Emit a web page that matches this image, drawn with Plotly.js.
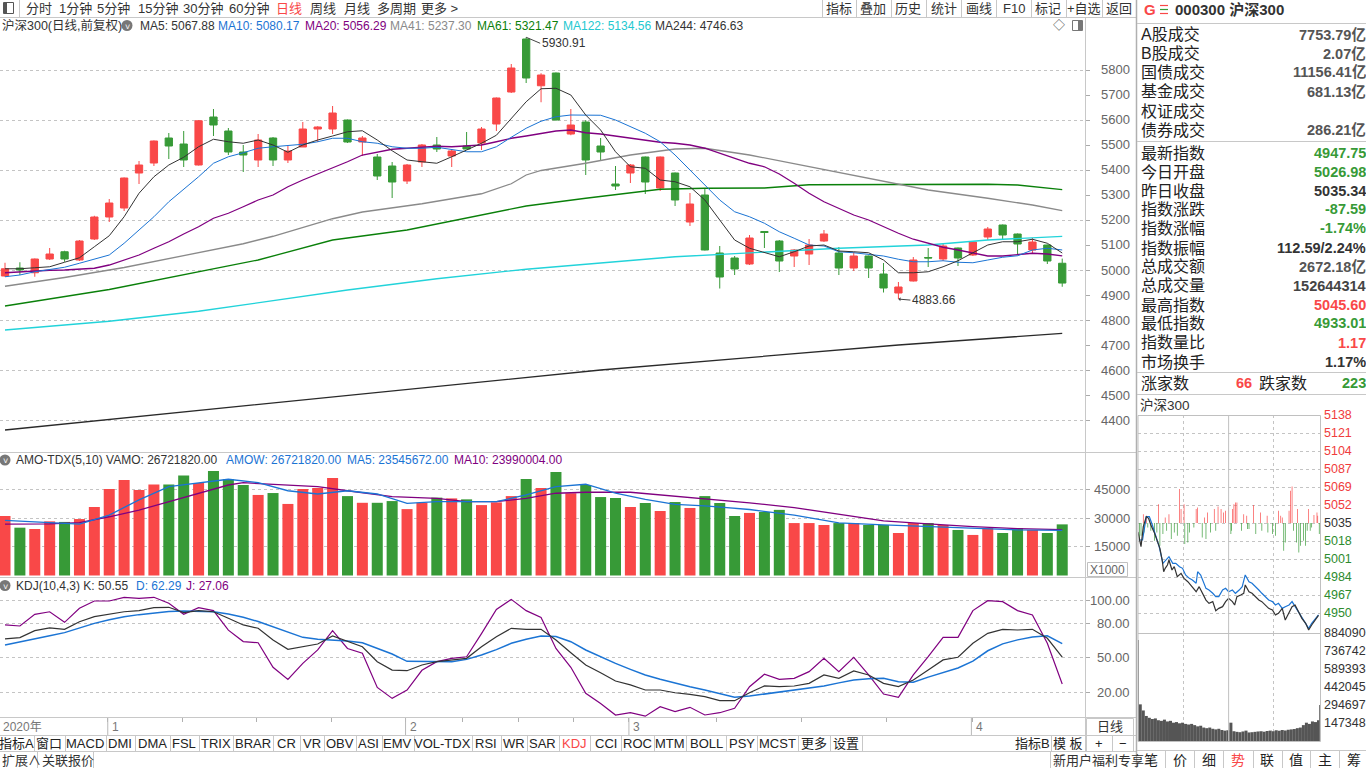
<!DOCTYPE html>
<html><head><meta charset="utf-8">
<script src="https://cdn.plot.ly/plotly-3.0.1.min.js"></script>
<style>html,body{margin:0;padding:0;background:#fff;overflow:hidden}#c{width:1366px;height:768px}</style>
</head><body><div id="c"></div>
<script>
// ---------------- DATA ----------------
const dates = ['2020-12-23','2020-12-24','2020-12-25','2020-12-28','2020-12-29','2020-12-30','2020-12-31',
'2021-01-04','2021-01-05','2021-01-06','2021-01-07','2021-01-08','2021-01-11','2021-01-12','2021-01-13','2021-01-14','2021-01-15','2021-01-18','2021-01-19','2021-01-20','2021-01-21','2021-01-22','2021-01-25','2021-01-26','2021-01-27','2021-01-28','2021-01-29',
'2021-02-01','2021-02-02','2021-02-03','2021-02-04','2021-02-05','2021-02-08','2021-02-09','2021-02-10','2021-02-18','2021-02-19','2021-02-22','2021-02-23','2021-02-24','2021-02-25','2021-02-26',
'2021-03-01','2021-03-02','2021-03-03','2021-03-04','2021-03-05','2021-03-08','2021-03-09','2021-03-10','2021-03-11','2021-03-12','2021-03-15','2021-03-16','2021-03-17','2021-03-18','2021-03-19','2021-03-22','2021-03-23','2021-03-24','2021-03-25','2021-03-26','2021-03-29','2021-03-30','2021-03-31',
'2021-04-01','2021-04-02','2021-04-06','2021-04-07','2021-04-08','2021-04-09','2021-04-12'];
const openP  = [4976,5008,4989,5044,5073,5040,5124,5212,5248,5388,5428,5528,5504,5420,5612,5556,5472,5440,5528,5440,5492,5564,5564,5600,5512,5452,5416,5356,5432,5500,5456,5496,5508,5584,5712,5924,5737,5788,5544,5592,5496,5344,5388,5452,5328,5388,5192,5300,5068,5048,5024,5154,5116,5056,5064,5116,5068,5008,5056,4984,4908,4956,5050,5044,5088,5060,5132,5180,5144,5080,5100,5026.98];
const highP  = [5029,5031,5046,5088,5077,5120,5217,5284,5370,5436,5518,5548,5556,5600,5644,5568,5500,5544,5532,5496,5592,5575,5656,5602,5536,5464,5432,5424,5504,5532,5484,5552,5572,5690,5824,5930.91,5787,5790,5644,5600,5528,5416,5424,5454,5454,5390,5308,5324,5096,5056,5140,5156,5120,5084,5124,5160,5092,5072,5058,5028,4952,5052,5088,5104,5090,5116,5172,5182,5146,5128,5102,5045.60];
const lowP   = [4973,4980,4973,5040,5033,5036,5120,5192,5236,5344,5416,5444,5412,5418,5536,5460,5392,5412,5416,5428,5492,5512,5544,5508,5456,5360,5288,5344,5412,5472,5412,5484,5480,5556,5708,5748,5671,5598,5539,5380,5440,5320,5348,5304,5316,5256,5176,5078,4926,4980,5020,5088,4992,5012,5020,5112,4980,4996,4968,4910,4883.66,4954,5012,5036,5016,5056,5120,5124,5064,5064,5024,4933.01];
const closeP = [5005,5000,5044,5064,5044,5116,5212,5268,5368,5420,5516,5496,5440,5597,5580,5472,5460,5520,5440,5476,5564,5572,5628,5512,5528,5376,5352,5420,5500,5484,5476,5484,5564,5688,5808,5768,5780,5600,5580,5440,5472,5336,5420,5352,5452,5280,5264,5080,4972,5004,5128,5150,5036,5080,5100,5144,5008,5056,5008,4928,4932,5040,5048,5096,5048,5112,5164,5140,5104,5112,5036,4947.75];
const ma5  = [5005,5005,5009,5013,5031,5049,5093,5137,5213,5307,5373,5420,5451,5493,5523,5513,5507,5520,5500,5471,5500,5520,5536,5553,5557,5520,5477,5440,5433,5427,5453,5480,5507,5539,5607,5673,5725,5727,5700,5620,5560,5473,5413,5407,5360,5353,5333,5280,5200,5120,5087,5069,5053,5073,5096,5100,5076,5073,5069,5040,4989,4989,4993,5013,5037,5069,5100,5113,5113,5123,5107,5067.88];
const ma10 = [4973,4980,4993,5003,5011,5027,5043,5060,5107,5160,5213,5273,5323,5373,5427,5453,5469,5487,5493,5497,5503,5513,5527,5527,5513,5507,5493,5487,5487,5491,5483,5473,5473,5493,5531,5567,5595,5613,5620,5620,5619,5600,5573,5547,5513,5460,5400,5340,5280,5233,5213,5187,5153,5127,5100,5096,5073,5069,5064,5056,5043,5033,5033,5037,5031,5029,5040,5051,5057,5080,5087,5080.17];
const ma20 = [4989,4993,4997,4999,5000,5003,5007,5020,5040,5060,5087,5113,5144,5173,5207,5227,5253,5280,5300,5333,5360,5384,5411,5433,5460,5473,5483,5487,5491,5495,5493,5496,5500,5513,5527,5536,5547,5556,5560,5549,5544,5536,5527,5517,5511,5507,5500,5487,5467,5447,5427,5413,5384,5347,5307,5273,5247,5220,5200,5173,5147,5123,5107,5091,5080,5067,5056,5056,5060,5067,5064,5056.29];
const ma41Idx  = [0,4,8,12,16,18,20,22,24,28,32,34,35,36,39,42,45,47,50,54,58,62,66,69,71];
const ma41     = [4935,4970,5010,5058,5105,5135,5170,5205,5232,5265,5305,5345,5380,5398,5427,5460,5484,5487,5460,5413,5367,5320,5287,5260,5237.30];
const ma61Idx  = [0,7,17,22,27,35,39,42,44,47,51,54,60,66,68,71];
const ma61     = [4856,4922,5040,5120,5160,5256,5287,5309,5323,5327,5328,5341,5343,5343,5340,5321.47];
const ma122Idx = [0,7,13,20,23,29,35,45,50,56,62,66,71];
const ma122    = [4760,4795,4835,4895,4920,4965,5003,5053,5069,5087,5100,5120,5134.56];
const ma244Idx = [0,20,40,60,71];
const ma244    = [4360,4480,4600,4700,4746.63];
// AMO (x1000)
const amount = [31100,25000,24300,28300,28000,29500,35800,45200,49900,44700,47500,47500,52200,48300,54600,50300,47300,42100,43100,37400,45200,45700,51000,41500,38000,38000,38900,34700,38000,40700,40300,39800,36800,38200,41500,50400,45700,54100,43000,47300,41000,40500,35800,37900,33700,38400,35300,41500,37900,31100,32700,33200,34300,27400,27400,26400,27400,27400,26400,26400,22200,27400,27400,26400,23800,21200,24800,22200,24800,23800,22200,26721.82];
const amoMa5Idx  = [0,5,7,9,11,13,15,17,19,21,23,25,27,29,31,33,35,37,39,41,43,45,47,50,53,56,59,62,65,68,71];
const amoMa5     = [28850,26900,31600,39500,46400,48500,50300,48500,44300,42600,44300,42600,37700,38600,38600,38600,42100,46400,47700,43000,39800,37200,36400,34500,31500,27500,26500,25500,24800,23800,23545.67];
const amoMa10Idx = [0,3,5,7,9,11,13,15,16,18,21,23,26,29,31,33,35,37,39,42,45,47,50,53,56,59,62,65,68,71];
const amoMa10    = [26800,27000,27600,30700,34200,38600,43000,47300,48500,47800,46400,44300,41200,40300,38600,38600,40300,43000,43500,43500,41500,40300,38000,35500,32000,28500,27000,25500,24500,23990.00];
// KDJ(10,4,3)
const kdjK = [66.3,67.5,73.5,76,74.7,81.3,85.7,87.8,90,91,93.6,93.9,89.2,91,90,84.3,78.5,75.6,65.4,57.3,59.5,61.9,68.9,63.9,59.5,46.5,39.2,38.6,43.6,46.5,48,49.4,59.5,68.3,75.6,74.7,74.7,65.4,54.3,43.6,36.9,29.6,26.2,21.8,21.8,19.4,18,16,12.5,12.5,19.4,25.3,24.7,25.3,27.6,34.9,32,38.4,34.9,27.6,24.7,30.5,39.2,48,50.3,62.5,71.2,74.7,74.1,74.7,66.9,50.55];
const kdjD = [61,63.5,66,69,71.8,76,79.9,83,85.7,87.5,89.2,90.3,90.7,90.5,90,88,85.2,81.5,77,72,67.7,66,65.4,64.5,63,58,53.2,46.8,46.5,46.3,46.5,48.5,52.3,57,62.5,66,68.9,68.5,63.9,56.7,50.8,45,39.8,34.9,31.1,27.6,24.7,21.8,18.3,15.4,16.5,18.3,20,21.8,23.5,25.3,28,30.5,31.5,32,29,28.5,33,37,41,47,56,62,65.5,68,69,62.29];
const kdjJ = [78.5,77.6,87.8,90,80.8,93,99.4,99.4,102.6,101.7,102.6,97.4,87.8,93.6,91,74,64,63,41.6,31,45,56.7,73.5,58,53.8,24,14.5,21.8,39,46.5,49.4,50.8,71,92,100.8,91,85,58,41.6,19,10,0,2,-1,7.2,2.9,6.7,0,2,5.8,24.7,35.5,31,32,37.8,49.4,37.8,50.3,34.9,18.3,15.4,34.9,50.8,67.7,67.7,91,99.7,98.8,91,87.2,62.5,27.06];
// axis labels
const priceLabels = [4400,4500,4600,4700,4800,4900,5000,5100,5200,5300,5400,5500,5600,5700,5800];
const priceGrid   = [4400,4600,4800,5000,5200,5400,5600,5800];
const amoLabels   = [15000,30000,45000];
const kdjLabels   = [20,50,80,100];
const kdjLabelText= ['20.00','50.00','80.00','100.00'];
const monthIdx    = [7,27,42,65];
const monthText   = ['1','2','3','4'];
const subTicks    = [6.9,11.95,16.9,21.9,26.9,30.7,34.5,38.2,41.9,47.8,53.5,59.2,65.0];
// intraday (right panel)
const miniMin   = [0,1,4,7,11,14,17,22,26,29,32,34,36,39,41,45,48,52,57,61,66,70,74,77,81,85,90,94,99,103,107,112,116,120,125,128,131,136,140,142,147,151,156,160,164,169,173,178,182,186,191,195,200,204,208,213,217,222,226,230,235,239];
const miniPrice = [5026.98,5024.1,5013.0,5032.0,5041.5,5039.9,5033.6,5025.6,5017.7,5011.4,5000.3,4989.2,4992.4,4995.6,5000.3,4990.8,4994.0,4984.5,4987.6,4982.9,4979.7,4976.6,4973.4,4970.2,4975.0,4968.7,4962.3,4959.2,4960.8,4952.2,4954.4,4956.0,4960.8,4963.9,4960.8,4957.6,4965.5,4967.1,4968.7,4976.6,4970.2,4968.7,4965.5,4962.3,4960.8,4957.6,4954.4,4952.8,4948.1,4949.7,4954.4,4943.3,4951.3,4956.0,4957.6,4951.3,4944.9,4940.2,4933.8,4938.6,4943.3,4947.75];
const avgMin    = [1,6,11,15,19,24,28,33,37,41,46,50,55,59,63,68,72,77,79,83,90,94,99,103,107,112,116,120,125,129,134,138,142,147,151,156,160,164,169,173,178,182,186,191,195,200,204,208,213,217,222,226,230,235,239];
const avgPrice  = [5019.3,5019.3,5041.5,5041.5,5033.6,5022.5,5013.0,4997.2,5000.3,5003.5,4997.2,4997.2,4994.0,4992.4,4986.1,4982.9,4981.3,4978.2,4989.2,4986.1,4973.4,4971.8,4968.7,4965.5,4965.5,4971.8,4973.4,4970.2,4971.8,4968.7,4971.8,4975.0,4986.1,4979.7,4978.2,4975.0,4971.8,4968.7,4965.5,4962.3,4960.8,4957.6,4959.2,4954.4,4956.0,4957.6,4960.8,4956.0,4949.7,4944.9,4940.2,4935.4,4940.2,4944.9,4948.1];
const strengthMin = [2,4,7,8,11,13,17,22,25,27,29,33,36,38,41,44,48,52,55,57,61,62,66,68,74,77,79,85,88,90,92,96,101,103,106,110,113,116,120,123,124,125,127,129,131,137,140,144,145,147,153,156,162,164,171,172,178,182,186,189,191,193,195,200,202,204,206,210,211,213,215,219,222,224,226,228,230,233,237,238,240];
const strengthVal = [-16.8,-12.0,8.5,-8.9,7.0,-4.1,-7.3,-16.8,-8.9,18.0,-21.5,-10.4,5.4,-7.3,8.5,-15.2,-8.9,-12.0,32.3,13.3,18.0,-19.9,-18.4,-8.9,-4.1,13.3,14.9,-13.6,5.4,-15.2,10.1,-8.9,13.3,-7.3,15.8,13.3,10.1,11.7,14.9,-10.4,-7.3,13.3,18.0,19.6,19.6,-7.3,8.5,7.0,-5.7,-5.7,17.1,-10.4,10.1,-7.3,7.0,-8.9,-10.4,-12.0,11.7,7.0,5.4,-26.3,-18.4,11.7,30.7,34.8,-7.3,-18.4,13.3,-27.9,-21.5,-16.8,-21.5,-7.3,13.3,-7.3,-4.1,7.6,10.1,7.0,-10.4];
const miniVolMin = [0.5,3,7,11,15,19,23,27,31,35,39,43,47,51,55,59,63,67,71,75,79,83,87,91,95,99,103,107,111,115,119,123,127,131,135,139,143,147,151,155,159,163,167,171,175,179,183,187,191,195,199,203,207,211,215,219,223,227,231,235,238.5,240.5];
const miniVol    = [826800,300000,250000,205000,190000,180000,185000,170000,165000,175000,160000,165000,150000,155000,145000,150000,140000,135000,140000,130000,120000,125000,110000,105000,110000,100000,95000,100000,90000,85000,88000,150000,80000,75000,72000,78000,85000,70000,72000,75000,78000,80000,76000,82000,85000,80000,88000,84000,90000,86000,92000,95000,98000,105000,110000,130000,150000,140000,160000,155000,170000,295000];
const miniPriceTicks = [5138,5120.89,5103.78,5086.67,5069.56,5052.45,5035.34,5018.23,5001.12,4984.01,4966.9,4949.79];
const miniPriceText  = ['5138','5121','5104','5087','5069','5052','5035','5018','5001','4984','4967','4950'];
const miniVolTicks   = [147348,294697,442045,589393,736742,884090];

// ---------------- RENDER ----------------
const W=1366,H=768;
const FONT='Liberation Sans, Arial, Noto Sans CJK SC, sans-serif';
const RED='#f94848', GREEN='#379a37';
const X=v=>v/W, Y=v=>1-v/H;
const idx = closeP.map((_,i)=>i);
const shapes=[], annos=[];
function T(text,x,y,o){o=o||{};annos.push({text:text,xref:'paper',yref:'paper',x:X(x),y:Y(y),xanchor:o.a||'left',yanchor:'middle',showarrow:false,borderpad:0,font:{family:o.f||FONT,size:o.s||12,color:o.c||'#333',weight:o.w||'normal'}});}
function L(x0,y0,x1,y1,c,w){shapes.push({type:'line',xref:'paper',yref:'paper',x0:X(x0),y0:Y(y0),x1:X(x1),y1:Y(y1),line:{color:c||'#c8c8c8',width:w||1}});}
function R(x0,y0,x1,y1,c,fill){shapes.push({type:'rect',xref:'paper',yref:'paper',x0:X(x0),y0:Y(y0),x1:X(x1),y1:Y(y1),line:{color:c||'#c8c8c8',width:1},fillcolor:fill||'rgba(0,0,0,0)'});}
function C(cx,cy,r,fill){shapes.push({type:'circle',xref:'paper',yref:'paper',x0:X(cx-r),y0:Y(cy+r),x1:X(cx+r),y1:Y(cy-r),line:{width:0},fillcolor:fill});}
// axis value labels placed through the axes' own scales
function axisLabel(yref,v,text,xpx,anchor,color,size){annos.push({text:text,xref:'paper',yref:yref,x:X(xpx),y:v,xanchor:anchor,yanchor:'middle',showarrow:false,borderpad:0,font:{family:FONT,size:size||13,color:color||'#666'}});}

const upDown = closeP.map((c,i)=> c>=openP[i] ? RED : GREEN);
const traces = [];
function ln(xs,ys,color,w,xa,ya){traces.push({type:'scatter',mode:'lines',x:xs,y:ys,xaxis:xa||'x',yaxis:ya||'y',line:{color:color,width:w||1},hoverinfo:'skip'});}

ln(ma244Idx,ma244,'#2a2a2a',1.3);
ln(ma122Idx,ma122,'#22d3da',1.3);
ln(ma61Idx,ma61,'#0a800a',1.3);
ln(ma41Idx,ma41,'#8a8a8a',1.3);
traces.push({type:'candlestick',x:idx,open:openP,high:highP,low:lowP,close:closeP,text:dates,xaxis:'x',yaxis:'y',
  increasing:{line:{color:RED,width:1},fillcolor:RED},decreasing:{line:{color:GREEN,width:1},fillcolor:GREEN},whiskerwidth:0,hoverinfo:'skip'});
ln(idx,ma20,'#800080',1.3);
ln(idx,ma10,'#1b74d4',1);
ln(idx,ma5,'#333333',1);
traces.push({type:'bar',x:idx,y:amount,xaxis:'x',yaxis:'y2',width:0.74,marker:{color:upDown,line:{width:0}},hoverinfo:'skip'});
ln(amoMa10Idx,amoMa10,'#800080',1.3,'x','y2');
ln(amoMa5Idx,amoMa5,'#1b74d4',1.3,'x','y2');
ln(idx,kdjJ,'#800080',1.2,'x','y3');
ln(idx,kdjD,'#1b74d4',1.5,'x','y3');
ln(idx,kdjK,'#333333',1.2,'x','y3');
// intraday panel
traces.push({type:'bar',x:strengthMin,y:strengthVal,base:5035.34,xaxis:'x2',yaxis:'y7',width:0.9,
  marker:{color:strengthVal.map(v=>v>=0?RED:GREEN),line:{width:0}},hoverinfo:'skip'});
ln(avgMin,avgPrice,'#1b74d4',1.2,'x2','y7');
ln(miniMin,miniPrice,'#333333',1.2,'x2','y7');
traces.push({type:'bar',x:miniVolMin,y:miniVol,xaxis:'x2',yaxis:'y9',
  width:miniVolMin.map((m,i)=> i===0||i===miniVolMin.length-1 ? 1 : (i===miniVolMin.length-2 ? 3 : 4)),
  marker:{color:'#555555',line:{width:0}},hoverinfo:'skip'});

// axis labels
priceLabels.forEach(v=>axisLabel('y',v,String(v),1131,'right'));
amoLabels.forEach(v=>axisLabel('y2',v,String(v),1131,'right'));
kdjLabels.forEach((v,i)=>axisLabel('y3',v,kdjLabelText[i],1131,'right'));
miniPriceTicks.forEach((v,i)=>axisLabel('y7',v,miniPriceText[i],1323,'left',i<6?'#f03c3c':(i===6?'#333':'#2e8b2e'),12.5));
miniVolTicks.forEach(v=>axisLabel('y9',v,String(v),1323,'left','#333',12.5));

// ---------- chrome: top toolbar ----------
L(0,17.5,1136,17.5);
R(3.5,2.5,13.5,13.5,'#555'); shapes.push({type:'rect',xref:'paper',yref:'paper',x0:X(4),y0:Y(13),x1:X(7),y1:Y(3),line:{width:0},fillcolor:'#555'});
L(19.5,0,19.5,17);
[['分时',25],['1分钟',58],['5分钟',96],['15分钟',137],['30分钟',182],['60分钟',228],['日线',275,RED],['周线',309],['月线',343],['多周期',376],['更多 >',420]]
 .forEach(t=>T(t[0],t[1],8.5,{s:13,c:t[2]||'#333'}));
[822,855.6,890.7,926,961,996,1031,1065.6,1101.5].forEach(x=>L(Math.round(x)+0.5,0,Math.round(x)+0.5,17));
[['指标',838.8],['叠加',873],['历史',908],['统计',943.5],['画线',978.5],['F10',1013.5],['标记',1048],['+自选',1083.5],['返回',1119]]
 .forEach(t=>T(t[0],t[1],8.5,{s:13,a:'center'}));
// legend row
T('沪深300(日线,前复权)',1,25.5,{s:12.5});
C(127,25.5,5.5,'#777'); T('˅',127,26.5,{s:9,c:'#fff',a:'center'});
T('MA5: 5067.88',138.6,25.5,{c:'#333'});
T('MA10: 5080.17',217,25.5,{c:'#1b74d4'});
T('MA20: 5056.29',303.6,25.5,{c:'#800080'});
T('MA41: 5237.30',389,25.5,{c:'#8a8a8a'});
T('MA61: 5321.47',476,25.5,{c:'#0a800a'});
T('MA122: 5134.56',562,25.5,{c:'#22c8d0'});
T('MA244: 4746.63',654,25.5,{c:'#333'});
T('◇',1059,25.5,{s:12,a:'center',c:'#555'});
R(1072.5,20.5,1082.5,30.5,'#777'); shapes.push({type:'rect',xref:'paper',yref:'paper',x0:X(1078),y0:Y(30),x1:X(1082),y1:Y(21),line:{width:0},fillcolor:'#777'});
// frames
L(1085.5,17,1085.5,752);
L(0,452.5,1136,452.5);
L(0,577.5,1136,577.5);
L(0,717.5,1136,717.5);
L(0,735.5,1136,735.5);
L(0,751.5,1136,751.5);
L(1136.5,0,1136.5,768,'#b0b0b0',1.5);
// volume legend
C(5,460,5.5,'#777'); T('˅',5,461,{s:9,c:'#fff',a:'center'});
T('AMO-TDX(5,10) VAMO: 26721820.00',14.7,460,{c:'#333'});
T('AMOW: 26721820.00',225.4,460,{c:'#1b74d4'});
T('MA5: 23545672.00',346,460,{c:'#1b74d4'});
T('MA10: 23990004.00',453,460,{c:'#800080'});
R(1087.5,562.5,1127.5,576.5,'#c0c0c0'); T('X1000',1107.5,569.5,{a:'center',c:'#666'});
// kdj legend
C(5,585.5,5.5,'#777'); T('˅',5,586.5,{s:9,c:'#fff',a:'center'});
T('KDJ(10,4,3) K: 50.55',14.7,585.5,{c:'#333'});
T('D: 62.29',134.8,585.5,{c:'#1b74d4'});
T('J: 27.06',185,585.5,{c:'#800080'});
// date row
T('2020年',2,726.5,{c:'#777'});
monthIdx.forEach((m,i)=>{
  shapes.push({type:'line',xref:'x',yref:'paper',x0:m-0.1,x1:m-0.1,y0:Y(718),y1:Y(735),line:{color:'#b8b8b8',width:1}});
  annos.push({text:monthText[i],xref:'x',yref:'paper',x:m,y:Y(726.5),xanchor:'left',yanchor:'middle',showarrow:false,xshift:1,font:{family:FONT,size:12,color:'#777'}});
});
R(1086.5,718.5,1133.5,735.5,'#c8c8c8'); T('日线',1110,726.5,{s:13,a:'center'});
// bottom tabs
const tabs=[['指标A',0,33.5],['窗口',33.5,64.7],['MACD',64.7,105.8],['DMI',105.8,135],['DMA',135,169.6],['FSL',169.6,198.7],['TRIX',198.7,233],['BRAR',233,273],['CR',273,300],['VR',300,323.7],['OBV',323.7,355.8],['ASI',355.8,381.7],['EMV',381.7,413.8],['VOL-TDX',413.8,471.9],['RSI',471.9,501],['WR',501,526.8],['SAR',526.8,559],['KDJ',559,590],['CCI',590,621.4],['ROC',621.4,654],['MTM',654,686],['BOLL',686,726],['PSY',726,757.3],['MCST',757.3,798.3],['更多',798.3,830],['设置',830,862.3],['指标B',1014,1050.7],['模 板',1050.7,1086],['+',1086,1112],['−',1112,1133]];
tabs.forEach(t=>{T(t[0],(t[1]+t[2])/2,743.5,{s:13,a:'center',c:t[0]==='KDJ'?RED:'#222'}); L(Math.round(t[2])+0.5,735,Math.round(t[2])+0.5,751);});
T('扩展∧',1,760.5,{s:13}); L(37.5,752,37.5,768); T('关联报价',41,760.5,{s:13}); L(93.5,752,93.5,768);
L(1050.5,752,1050.5,768); T('新用户福利专享',1051.5,760.5,{s:13});
// ---------- right panel ----------
T('G',1143,9,{s:15,c:RED,w:'bold'});
L(1160,5.5,1168,5.5,RED,1.2); L(1160,9.5,1168,9.5,GREEN,1.2); L(1160,13.5,1168,13.5,RED,1.2);
T('000300 沪深300',1174,9,{s:15,c:'#333',w:'bold'});
L(1137,23.5,1366,23.5);
const rows=[['A股成交','7753.79亿','#555',35],['B股成交','2.07亿','#555',53.5],['国债成交','11156.41亿','#555',72.5],['基金成交','681.13亿','#555',91.7],['权证成交','','#555',111],['债券成交','286.21亿','#555',130],
 ['最新指数','4947.75',GREEN,153],['今日开盘','5026.98',GREEN,171.7],['昨日收盘','5035.34','#333',190.7],['指数涨跌','-87.59',GREEN,209.3],['指数涨幅','-1.74%',GREEN,228.3],['指数振幅','112.59/2.24%','#333',248],
 ['总成交额','2672.18亿','#555',266.7],['总成交量','152644314','#444',286],['最高指数','5045.60',RED,305],['最低指数','4933.01',GREEN,323.3],['指数量比','1.17',RED,343],['市场换手','1.17%','#333',362.5]];
rows.forEach(r=>{T(r[0],1140,r[3],{s:16,c:'#222'}); if(r[1]) T(r[1],1367,r[3],{s:14.5,c:r[2],a:'right',w:'bold'});});
L(1137,141.5,1366,141.5);
L(1137,372.5,1366,372.5);
T('涨家数',1140,383.5,{s:16,c:'#222'}); T('66',1253,383.5,{s:14.5,c:RED,a:'right',w:'bold'});
T('跌家数',1258,383.5,{s:16,c:'#222'}); T('223',1367,383.5,{s:14.5,c:GREEN,a:'right',w:'bold'});
L(1137,394.5,1366,394.5);
T('沪深300',1139,405,{s:13.5,c:'#333'});
R(1138,415.5,1320.5,741.5,'#c0c0c0');
L(1138,633.5,1320.5,633.5,'#c0c0c0');
shapes.push({type:'line',xref:'x2',yref:'paper',x0:120,x1:120,y0:Y(415.5),y1:Y(741.5),line:{color:'#c0c0c0',width:1}});
L(1137,750.5,1366,750.5);
[1165,1194,1223,1253,1282,1310,1339].forEach(x=>L(x+0.5,751,x+0.5,768));
[['笔',1151],['价',1179.5],['细',1208.5],['势',1238,RED],['联',1267],['值',1296],['主',1324.5],['筹',1354]].forEach(t=>T(t[0],t[1],759.5,{s:14,a:'center',c:t[2]||'#222'}));

// annotations on data
annos.push({xref:'x',yref:'y',x:35,y:5930.91,text:'5930.91',showarrow:true,arrowhead:0,arrowwidth:1,arrowcolor:'#444',ax:14,ay:6,xanchor:'left',yanchor:'middle',font:{family:FONT,size:12,color:'#333'}});
annos.push({xref:'x',yref:'y',x:60,y:4883.66,text:'4883.66',showarrow:true,arrowhead:1,arrowsize:0.7,arrowwidth:1,arrowcolor:'#444',ax:12,ay:1,xanchor:'left',yanchor:'middle',font:{family:FONT,size:12,color:'#333'}});

const grid={showgrid:true,gridcolor:'#c4c4c4',griddash:'dot',gridwidth:1};
const priceRange=[4272,6012], amoRange=[-784,64547], kdjRange=[-1.744,120.31], miniRange=[4931.0,5138];

const layout={
  width:W,height:H,margin:{l:0,r:0,t:0,b:0},paper_bgcolor:'#ffffff',plot_bgcolor:'rgba(0,0,0,0)',
  showlegend:false,hovermode:false,dragmode:false,barmode:'overlay',
  xaxis:{domain:[0,X(1085)],range:[-0.336,72.53],anchor:'y3',showgrid:false,zeroline:false,showline:false,
    tickmode:'array',tickvals:subTicks,ticks:'outside',ticklen:4,tickcolor:'#b0b0b0',showticklabels:false,rangeslider:{visible:false},fixedrange:true},
  yaxis:Object.assign({domain:[Y(452),Y(17)],range:priceRange,anchor:'x',side:'right',tickmode:'array',tickvals:priceGrid,showticklabels:false,
    ticks:'outside',ticklen:4,tickcolor:'#aaa',zeroline:false,showline:false,fixedrange:true,
    minor:{tickmode:'array',tickvals:priceLabels,ticks:'outside',ticklen:4,tickcolor:'#aaa',showgrid:false}},grid),
  yaxis2:Object.assign({domain:[Y(577),Y(452)],range:amoRange,anchor:'x',side:'right',tickmode:'array',tickvals:amoLabels,showticklabels:false,
    ticks:'outside',ticklen:4,tickcolor:'#aaa',zeroline:false,showline:false,fixedrange:true},grid),
  yaxis3:Object.assign({domain:[Y(717),Y(577)],range:kdjRange,anchor:'x',side:'right',tickmode:'array',tickvals:kdjLabels,showticklabels:false,
    ticks:'outside',ticklen:4,tickcolor:'#aaa',zeroline:false,showline:false,fixedrange:true},grid),
  xaxis2:{domain:[X(1138),X(1320)],range:[0,241],anchor:'y9',tickmode:'array',tickvals:[60,180],showticklabels:false,ticks:'',
    showgrid:true,gridcolor:'#c4c4c4',griddash:'dot',zeroline:false,showline:false,fixedrange:true},
  yaxis7:Object.assign({domain:[Y(633),Y(415)],range:miniRange,anchor:'x2',side:'right',tickmode:'array',tickvals:miniPriceTicks,showticklabels:false,ticks:'',zeroline:false,showline:false,fixedrange:true},grid),
  yaxis9:{domain:[Y(741),Y(633)],range:[0,884090],anchor:'x2',side:'right',showticklabels:false,showgrid:false,ticks:'',zeroline:false,showline:false,fixedrange:true},
  shapes:shapes, annotations:annos
};
Plotly.newPlot('c',traces,layout,{displayModeBar:false,staticPlot:true});
</script></body></html>
